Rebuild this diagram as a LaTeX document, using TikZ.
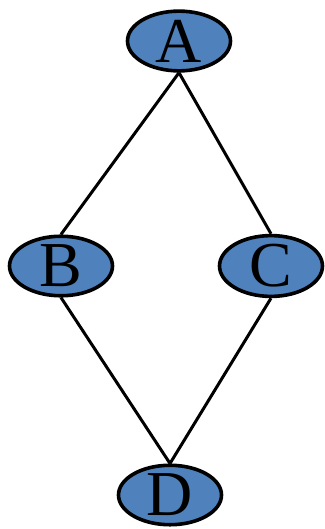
\documentclass[tikz,border=0pt]{standalone}
\usepackage{fontspec}
\setmainfont{Liberation Serif}
\usepackage{xcolor}
\usetikzlibrary{shapes.geometric}

\definecolor{nodeblue}{HTML}{4F81BD}

\begin{document}
\begin{tikzpicture}[
  x=1pt, y=-1pt,
  every node/.style={ellipse, draw, line width=3.6pt, fill=nodeblue, inner sep=0pt,
    minimum width=103pt, minimum height=58pt, font=\fontsize{64}{64}\selectfont},
  edge/.style={line width=3pt}
]
\useasboundingbox (0,0) rectangle (324,529);
\node (a) at (179,41) {A};
\node (b) at (61,266) {B};
\node (c) at (271,266) {C};
\node (d) at (170,495) {D};

\draw[edge] (a.south) -- (b.north);
\draw[edge] (a.south) -- (c.north);
\draw[edge] (b.south) -- (d.north);
\draw[edge] (c.south) -- (d.north);
\end{tikzpicture}
\end{document}
